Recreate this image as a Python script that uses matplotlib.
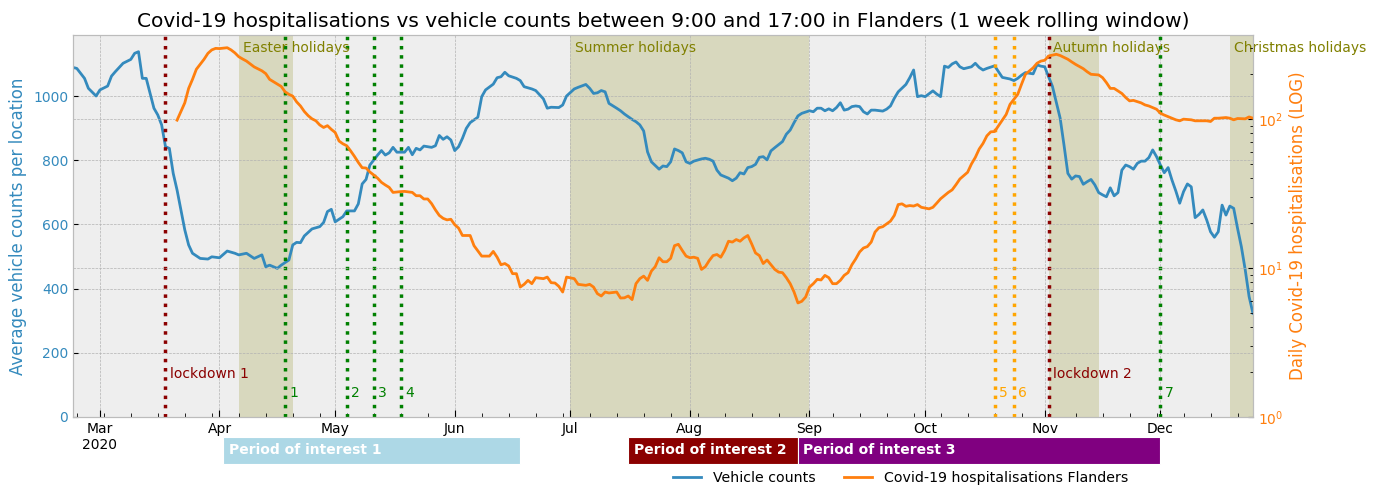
import matplotlib
matplotlib.use('Agg')
import matplotlib.pyplot as plt
import matplotlib.dates as mdates
import matplotlib.transforms as mtransforms
from matplotlib.patches import Rectangle
from matplotlib.lines import Line2D
import pandas as pd

plt.style.use('bmh')

BASE = pd.Timestamp('2020-03-01')

# vehicle counts (day offset from 2020-03-01, value)
veh_day = [-7, -6, -4, -3, -1, 0, 2, 3, 4, 6, 8, 9, 10, 11, 12, 13, 14, 15, 16, 17, 18, 19, 20, 21, 22, 23, 24,
           26, 28, 29, 31, 33, 35, 36, 38, 40, 42, 43, 44, 46, 47, 49, 50, 51, 52, 53, 55, 57, 58, 59, 60, 61,
           63, 64, 66, 67, 68, 69, 70, 72, 73, 74, 75, 76, 77, 79, 80, 81, 82, 83, 84, 86, 87, 88, 89, 90, 91,
           92, 93, 94, 95, 96, 98, 99, 100, 102, 103, 104, 105, 106, 108, 109, 110, 112, 113, 115, 116, 117,
           119, 120, 121, 123, 124, 126, 127, 128, 129, 130, 131, 132, 134, 135, 136, 138, 139, 140, 141, 142,
           143, 145, 146, 147, 148, 149, 150, 151, 152, 153, 154, 156, 157, 158, 159, 160, 161, 163, 164, 165,
           166, 167, 168, 169, 170, 171, 172, 173, 174, 175, 177, 178, 179, 180, 181, 182, 184, 185, 186, 187,
           188, 189, 190, 191, 192, 193, 194, 195, 196, 197, 198, 199, 200, 201, 203, 204, 205, 206, 207, 209,
           210, 211, 212, 213, 214, 216, 217, 218, 219, 220, 221, 222, 223, 224, 226, 227, 228, 229, 230, 232,
           233, 234, 236, 237, 238, 239, 240, 242, 243, 244, 245, 246, 247, 248, 249, 250, 251, 252, 253, 254,
           255, 256, 257, 258, 259, 260, 261, 262, 263, 264, 265, 266, 267, 268, 269, 270, 271, 272, 273, 274,
           275, 276, 277, 278, 279, 280, 281, 282, 283, 284, 285, 286, 287, 288, 289, 290, 291, 292, 293, 294,
           295, 296, 297, 298, 299]
veh_val = [1089, 1086, 1055, 1024, 1000, 1019, 1031, 1062, 1076, 1102, 1114, 1133, 1138, 1055, 1055, 1008, 962,
           941, 910, 842, 837, 759, 707, 645, 583, 536, 510,
           494, 492, 499, 496, 517, 510, 505, 510, 494, 505, 468, 473, 463, 473, 489, 536, 544, 543, 564, 586,
           593, 606, 640, 647, 608,
           624, 642, 642, 664, 726, 740, 785, 816, 830, 816, 823, 840, 825, 825, 840, 817, 837, 832, 844, 840,
           845, 877, 865, 873, 863,
           830, 842, 868, 899, 917, 934, 998, 1019, 1037, 1057, 1060, 1074, 1063, 1055, 1048, 1029, 1022, 1017,
           991, 962, 965,
           964, 972, 1000, 1022, 1027, 1036, 1024, 1008, 1010, 1017, 1013, 977, 962, 954, 944, 927, 920, 910,
           891, 826,
           795, 772, 782, 780, 795, 835, 830, 823, 795, 790, 797, 804, 806, 803, 797, 769, 754, 744, 736, 744,
           761, 757, 777, 780, 787, 809, 811, 801, 829, 839, 858, 881, 894, 917, 938, 946, 954, 951, 962, 962,
           954, 960, 954, 964, 979, 956, 959, 967, 969, 967, 951, 944, 956, 956, 953, 959, 969, 993, 1013, 1036,
           1057, 1081, 998, 1001, 998, 1016, 1006, 998, 1093, 1089, 1100, 1106, 1091, 1085, 1091, 1102, 1089,
           1081, 1086, 1094,
           1076, 1058, 1053, 1048, 1055, 1065, 1073, 1069, 1097, 1093, 1091, 1060, 1030, 980, 931, 847, 759,
           741, 751, 749,
           725, 733, 740, 723, 699, 692, 686, 714, 689, 699, 769, 785, 780, 772, 790, 797, 797, 808, 832, 811,
           785, 761, 777, 738, 704, 666, 702, 726, 717, 621, 631, 645, 614, 577, 560, 577, 660, 629, 657, 650,
           588, 530, 458, 375, 323]

# daily covid-19 hospitalisations (day offset from 2020-03-01, value)
hosp_day = [20, 22, 23, 24, 25, 26, 27, 28, 29, 30, 31, 33, 34, 35, 36, 37, 38, 40, 42, 43, 44, 46, 47, 48, 49,
            50, 51, 52, 53, 54, 55, 56, 57, 58, 59, 60, 61, 62, 63, 64, 65, 66, 67, 68, 69, 70, 71, 72, 73, 74,
            75, 76, 78, 79, 81, 82, 83, 84, 85, 86, 87, 88, 89, 90, 91, 92, 93, 94, 96, 97, 99, 100, 101, 102,
            103, 104, 105, 106, 107, 108, 109, 110, 111, 112, 113, 115, 116, 117, 118, 119, 120, 121, 123, 124,
            126, 127, 128, 129, 130, 131, 132, 134, 135, 136, 137, 138, 139, 140, 141, 142, 143, 144, 145, 146,
            147, 148, 149, 150, 151, 152, 153, 154, 155, 156, 157, 158, 159, 160, 161, 162, 163, 164, 165, 166,
            167, 168, 169, 170, 171, 172, 173, 174, 175, 176, 177, 178, 179, 180, 181, 182, 183, 184, 185, 186,
            187, 188, 189, 190, 191, 192, 193, 194, 195, 196, 197, 198, 199, 200, 201, 202, 203, 205, 206, 207,
            208, 209, 210, 211, 212, 213, 215, 216, 217, 218, 220, 221, 222, 223, 225, 226, 227, 228, 229, 230,
            231, 232, 233, 234, 235, 236, 238, 239, 240, 242, 243, 244, 245, 246, 248, 249, 251, 252, 253, 255,
            256, 257, 259, 260, 261, 262, 263, 265, 266, 267, 268, 270, 271, 272, 274, 275, 276, 278, 279, 280,
            281, 283, 284, 285, 287, 288, 289, 290, 292, 293, 294, 295, 297, 298, 299]
hosp_val = [98, 128, 160, 184, 215, 232, 251, 275, 290, 297, 296, 300, 290, 277, 261, 252, 244, 223, 210, 201,
            184, 171, 165, 152, 146,
            142, 130, 122, 112, 105, 100, 97, 91, 87.5, 90, 85, 81, 71, 68, 66, 61, 56, 51, 47, 46.8, 44, 42, 40,
            37.5, 36,
            34.7, 32.1, 32.5, 32.6, 32.1, 30.5, 30.5, 29, 29, 27, 24.5, 22.5, 21.5, 21, 21.2, 19.5, 18.5, 16.5,
            16.5, 14.1, 12.0, 12.0, 12.0, 12.9,
            11.8, 10.5, 10.7, 10.3, 9.15, 9.15, 7.44, 7.76, 8.25, 7.84, 8.6, 8.47, 8.68, 7.96, 7.92, 7.52, 6.89,
            8.68, 8.47, 7.76,
            7.64, 7.76, 7.44, 6.72, 6.48, 6.89, 6.79, 6.89, 6.28, 6.3, 6.48, 6.13, 7.84, 8.47, 8.81, 8.25, 9.52,
            10.2, 11.7, 11.0,
            11.0, 11.6, 14.1, 14.4, 13.1, 12.0, 11.7, 11.8, 11.6, 9.77, 10.2, 11.2, 12.1, 12.3, 11.8, 13.1, 15.1,
            14.9, 15.5, 15.1,
            15.9, 16.5, 14.5, 12.6, 12.1, 10.7, 11.3, 10.5, 9.77, 9.37, 9.29, 8.6, 7.84, 6.89, 5.82, 5.97, 6.38,
            7.44, 7.84, 8.38,
            8.3, 8.91, 8.6, 7.84, 7.84, 8.25, 8.91, 9.3, 10.5, 11.5, 12.8, 13.6, 13.9, 14.9, 17.4, 18.6, 18.9,
            20.6, 22.5, 26.6,
            26.9, 25.9, 26.2, 26.0, 26.6, 25.5, 24.9, 25.5, 27.2, 29.1, 32.1, 33.4, 36.2, 39.5, 43.8, 49.8, 55.1,
            62.7, 68.4, 76.9,
            81.8, 82.2, 89.8, 98, 107, 125, 146, 171, 199, 220, 236, 244, 247, 264, 271, 266, 251, 241, 232, 217,
            207, 199, 197, 189, 175, 160, 160, 148, 139, 132, 133, 128, 124, 122, 116, 109, 106, 101, 98.5, 97,
            99.5, 98.5, 97, 97, 97, 96, 101, 101, 102, 101, 98.5, 100.5, 100, 103, 101]

holiday_names = ['Easter holidays', 'Summer holidays', 'Autumn holidays', 'Christmas holidays']
holiday_start = ['2020-04-06', '2020-07-01', '2020-11-02', '2020-12-19']
holiday_end = ['2020-04-20', '2020-09-01', '2020-11-15', '2020-12-26']

lockdown_dates = ['2020-03-18', '2020-11-02']
lockdown_labels = ['lockdown 1', 'lockdown 2']
relax_dates = ['2020-04-18', '2020-05-04', '2020-05-11', '2020-05-18', '2020-12-01']
relax_labels = ['1', '2', '3', '4', '7']
tighten_dates = ['2020-10-19', '2020-10-24']
tighten_labels = ['5', '6']

period_labels = ['Period of interest 1', 'Period of interest 2', 'Period of interest 3']
period_start = ['2020-04-02', '2020-07-16', '2020-08-29']
period_end = ['2020-06-18', '2020-08-29', '2020-12-01']
period_colors = ['lightblue', 'darkred', 'purple']

BLUE = '#348ABD'
ORANGE = '#ff7f0e'

veh_dates = BASE + pd.to_timedelta(veh_day, unit='D')
hosp_dates = BASE + pd.to_timedelta(hosp_day, unit='D')

fig = plt.figure(figsize=(13.79, 5.01), dpi=100)
ax = fig.add_axes([0.0529, 0.1677, 0.9086 - 0.0529, 0.9301 - 0.1677])
ax2 = ax.twinx()

ax.plot(veh_dates, veh_val, color=BLUE, lw=2, label='Vehicle counts')
ax2.plot(hosp_dates, hosp_val, color=ORANGE, lw=2, label='Covid-19 hospitalisations Flanders')
ax2.set_yscale('log')
ax2.set_ylim(1, 365)
ax.set_ylim(0, 1190)
ax.set_xlim(pd.Timestamp('2020-02-23'), pd.Timestamp('2020-12-25'))

# holidays
for name, s, e in zip(holiday_names, holiday_start, holiday_end):
    ax.axvspan(pd.Timestamp(s), pd.Timestamp(e), color='olive', alpha=0.2, lw=0)
    ax.annotate(name, xy=(pd.Timestamp(s), 1150), xytext=(3, 0), textcoords='offset points',
                color='olive', fontsize=10, va='center', ha='left', annotation_clip=False)

for d, lab in zip(lockdown_dates, lockdown_labels):
    ax.axvline(pd.Timestamp(d), color='darkred', ls=':', lw=2.5)
    ax.annotate(lab, xy=(pd.Timestamp(d), 134), xytext=(3, 0), textcoords='offset points',
                color='darkred', fontsize=10, va='center', ha='left')

for d, lab in zip(relax_dates, relax_labels):
    ax.axvline(pd.Timestamp(d), color='green', ls=':', lw=2.5)
    ax.annotate(lab, xy=(pd.Timestamp(d), 75), xytext=(3, 0), textcoords='offset points',
                color='green', fontsize=10, va='center', ha='left')

for d, lab in zip(tighten_dates, tighten_labels):
    ax.axvline(pd.Timestamp(d), color='orange', ls=':', lw=2.5)
    ax.annotate(lab, xy=(pd.Timestamp(d), 75), xytext=(3, 0), textcoords='offset points',
                color='orange', fontsize=10, va='center', ha='left')

# periods of interest below the axis
trans = mtransforms.blended_transform_factory(ax.transData, ax.transAxes)
for lab, s, e, c in zip(period_labels, period_start, period_end, period_colors):
    x0 = mdates.date2num(pd.Timestamp(s))
    x1 = mdates.date2num(pd.Timestamp(e))
    ax.add_patch(Rectangle((x0, -0.123), x1 - x0, 0.071, transform=trans, facecolor=c,
                           edgecolor='white', lw=0.8, clip_on=False))
    ax.annotate(lab, xy=(x0, -0.0875), xycoords=trans, xytext=(4, 0), textcoords='offset points',
                color='white', fontweight='bold', fontsize=10, va='center', ha='left',
                annotation_clip=False)

# x axis formatting
ax.xaxis.set_major_locator(mdates.MonthLocator())
ax.xaxis.set_minor_locator(mdates.WeekdayLocator(byweekday=mdates.MO))

def fmt(x, pos=None):
    d = mdates.num2date(x)
    if d.month == 3:
        return d.strftime('%b') + '\n2020'
    return d.strftime('%b')

ax.xaxis.set_major_formatter(plt.FuncFormatter(fmt))
ax.tick_params(axis='x', which='major', length=5, labelsize=10)
ax.tick_params(axis='x', which='minor', length=3)
ax.tick_params(axis='y', colors=BLUE, labelsize=10)
ax.tick_params(axis='y', color='k')
ax2.tick_params(axis='y', which='both', labelcolor=ORANGE, labelsize=10)
ax2.grid(True, axis='y')
ax2.grid(False, axis='x')

ax.set_ylabel('Average vehicle counts per location', color=BLUE, fontsize=12)
ax2.set_ylabel('Daily Covid-19 hospitalisations (LOG)', color=ORANGE, fontsize=12)
ax.set_title('Covid-19 hospitalisations vs vehicle counts between 9:00 and 17:00 in Flanders (1 week rolling window)',
             fontsize=14.5)

handles = [Line2D([], [], color=BLUE, lw=2), Line2D([], [], color=ORANGE, lw=2)]
fig.legend(handles, ['Vehicle counts', 'Covid-19 hospitalisations Flanders'], loc='center',
           bbox_to_anchor=(0.653, 0.046), ncol=2, frameon=False, fontsize=10.2)

fig.savefig('out.png', dpi=100)
